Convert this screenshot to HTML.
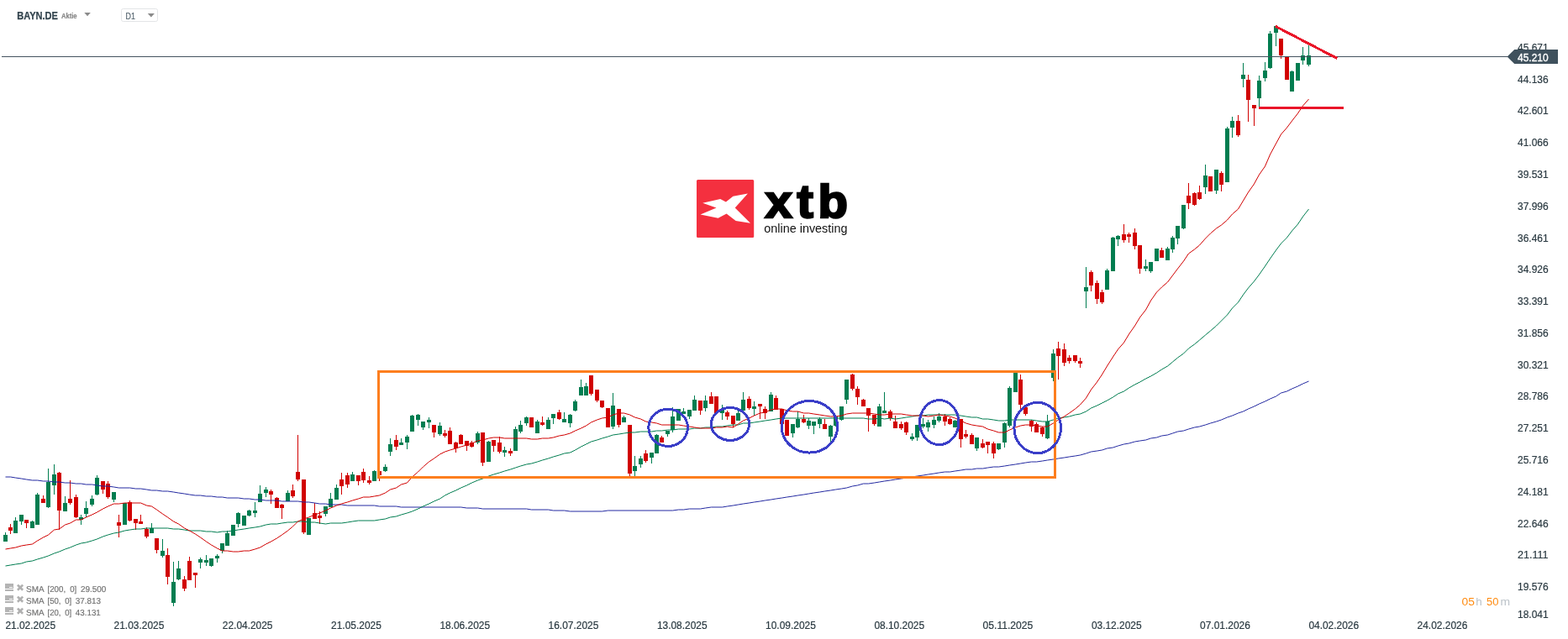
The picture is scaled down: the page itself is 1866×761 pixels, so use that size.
<!DOCTYPE html>
<html lang="de"><head><meta charset="utf-8"><title>BAYN.DE Aktie - D1</title>
<style>
html,body{margin:0;padding:0;background:#fff;}
body{width:1866px;height:761px;overflow:hidden;position:relative;}
svg{position:absolute;left:0;top:0;display:block;}
text{font-family:"Liberation Sans",sans-serif;}
.ax{font-size:12px;fill:#2b3a42;stroke:#2b3a42;stroke-width:0.2px;}
.lg{font-size:10px;fill:#6f6f6f;stroke:#6f6f6f;stroke-width:0.15px;text-rendering:geometricPrecision;}
</style></head><body>
<svg width="1866" height="761" viewBox="0 0 1866 761">
<rect x="0" y="0" width="1866" height="761" fill="#ffffff"/>
<g shape-rendering="crispEdges">
<rect x="6" y="634" width="1" height="11" fill="#007d50"/>
<rect x="4" y="637" width="5" height="8" fill="#007d50"/>
<rect x="12" y="624" width="1" height="12" fill="#d10000"/>
<rect x="10" y="628" width="5" height="4" fill="#d10000"/>
<rect x="18" y="616" width="1" height="19" fill="#007d50"/>
<rect x="16" y="620" width="5" height="15" fill="#007d50"/>
<rect x="25" y="613" width="1" height="12" fill="#007d50"/>
<rect x="23" y="613" width="5" height="8" fill="#007d50"/>
<rect x="31" y="619" width="1" height="10" fill="#d10000"/>
<rect x="29" y="619" width="5" height="4" fill="#d10000"/>
<rect x="38" y="620" width="1" height="9" fill="#007d50"/>
<rect x="36" y="621" width="5" height="8" fill="#007d50"/>
<rect x="44" y="587" width="1" height="38" fill="#007d50"/>
<rect x="42" y="589" width="5" height="36" fill="#007d50"/>
<rect x="51" y="590" width="1" height="9" fill="#d10000"/>
<rect x="49" y="594" width="5" height="5" fill="#d10000"/>
<rect x="57" y="558" width="1" height="47" fill="#007d50"/>
<rect x="55" y="574" width="5" height="30" fill="#007d50"/>
<rect x="64" y="553" width="1" height="36" fill="#007d50"/>
<rect x="62" y="565" width="5" height="13" fill="#007d50"/>
<rect x="70" y="562" width="1" height="69" fill="#d10000"/>
<rect x="68" y="563" width="5" height="45" fill="#d10000"/>
<rect x="77" y="591" width="1" height="18" fill="#007d50"/>
<rect x="75" y="599" width="5" height="10" fill="#007d50"/>
<rect x="83" y="572" width="1" height="29" fill="#d10000"/>
<rect x="81" y="594" width="5" height="5" fill="#d10000"/>
<rect x="90" y="589" width="1" height="28" fill="#d10000"/>
<rect x="88" y="592" width="5" height="24" fill="#d10000"/>
<rect x="96" y="613" width="1" height="12" fill="#007d50"/>
<rect x="94" y="616" width="5" height="3" fill="#007d50"/>
<rect x="102" y="597" width="1" height="19" fill="#007d50"/>
<rect x="100" y="605" width="5" height="7" fill="#007d50"/>
<rect x="109" y="590" width="1" height="13" fill="#007d50"/>
<rect x="107" y="594" width="5" height="7" fill="#007d50"/>
<rect x="115" y="566" width="1" height="24" fill="#007d50"/>
<rect x="113" y="569" width="5" height="20" fill="#007d50"/>
<rect x="122" y="573" width="1" height="15" fill="#d10000"/>
<rect x="120" y="573" width="5" height="10" fill="#d10000"/>
<rect x="128" y="573" width="1" height="21" fill="#d10000"/>
<rect x="126" y="576" width="5" height="16" fill="#d10000"/>
<rect x="135" y="586" width="1" height="12" fill="#007d50"/>
<rect x="133" y="586" width="5" height="9" fill="#007d50"/>
<rect x="141" y="613" width="1" height="27" fill="#d10000"/>
<rect x="139" y="622" width="5" height="4" fill="#d10000"/>
<rect x="148" y="599" width="1" height="26" fill="#007d50"/>
<rect x="146" y="599" width="5" height="26" fill="#007d50"/>
<rect x="154" y="596" width="1" height="25" fill="#d10000"/>
<rect x="152" y="598" width="5" height="22" fill="#d10000"/>
<rect x="161" y="618" width="1" height="13" fill="#d10000"/>
<rect x="159" y="618" width="5" height="5" fill="#d10000"/>
<rect x="167" y="613" width="1" height="11" fill="#d10000"/>
<rect x="165" y="621" width="5" height="3" fill="#d10000"/>
<rect x="174" y="628" width="1" height="13" fill="#d10000"/>
<rect x="172" y="630" width="5" height="9" fill="#d10000"/>
<rect x="180" y="623" width="1" height="12" fill="#007d50"/>
<rect x="178" y="629" width="5" height="6" fill="#007d50"/>
<rect x="186" y="641" width="1" height="18" fill="#d10000"/>
<rect x="184" y="641" width="5" height="14" fill="#d10000"/>
<rect x="193" y="642" width="1" height="22" fill="#007d50"/>
<rect x="191" y="656" width="5" height="6" fill="#007d50"/>
<rect x="199" y="653" width="1" height="43" fill="#d10000"/>
<rect x="197" y="661" width="5" height="26" fill="#d10000"/>
<rect x="206" y="669" width="1" height="53" fill="#007d50"/>
<rect x="204" y="693" width="5" height="25" fill="#007d50"/>
<rect x="212" y="668" width="1" height="23" fill="#007d50"/>
<rect x="210" y="677" width="5" height="13" fill="#007d50"/>
<rect x="219" y="686" width="1" height="18" fill="#d10000"/>
<rect x="217" y="690" width="5" height="11" fill="#d10000"/>
<rect x="225" y="663" width="1" height="28" fill="#d10000"/>
<rect x="223" y="668" width="5" height="23" fill="#d10000"/>
<rect x="232" y="682" width="1" height="18" fill="#d10000"/>
<rect x="230" y="682" width="5" height="3" fill="#d10000"/>
<rect x="238" y="664" width="1" height="13" fill="#007d50"/>
<rect x="236" y="666" width="5" height="4" fill="#007d50"/>
<rect x="245" y="661" width="1" height="13" fill="#007d50"/>
<rect x="243" y="667" width="5" height="3" fill="#007d50"/>
<rect x="251" y="665" width="1" height="10" fill="#007d50"/>
<rect x="249" y="665" width="5" height="9" fill="#007d50"/>
<rect x="258" y="660" width="1" height="10" fill="#007d50"/>
<rect x="256" y="662" width="5" height="3" fill="#007d50"/>
<rect x="264" y="647" width="1" height="12" fill="#007d50"/>
<rect x="262" y="647" width="5" height="9" fill="#007d50"/>
<rect x="270" y="632" width="1" height="18" fill="#007d50"/>
<rect x="268" y="635" width="5" height="15" fill="#007d50"/>
<rect x="277" y="625" width="1" height="13" fill="#007d50"/>
<rect x="275" y="625" width="5" height="13" fill="#007d50"/>
<rect x="283" y="610" width="1" height="18" fill="#007d50"/>
<rect x="281" y="611" width="5" height="13" fill="#007d50"/>
<rect x="290" y="614" width="1" height="12" fill="#007d50"/>
<rect x="288" y="614" width="5" height="12" fill="#007d50"/>
<rect x="296" y="607" width="1" height="8" fill="#007d50"/>
<rect x="294" y="608" width="5" height="6" fill="#007d50"/>
<rect x="303" y="598" width="1" height="18" fill="#007d50"/>
<rect x="301" y="608" width="5" height="3" fill="#007d50"/>
<rect x="309" y="578" width="1" height="20" fill="#007d50"/>
<rect x="307" y="588" width="5" height="10" fill="#007d50"/>
<rect x="316" y="580" width="1" height="12" fill="#007d50"/>
<rect x="314" y="583" width="5" height="4" fill="#007d50"/>
<rect x="322" y="583" width="1" height="17" fill="#d10000"/>
<rect x="320" y="585" width="5" height="4" fill="#d10000"/>
<rect x="329" y="592" width="1" height="13" fill="#d10000"/>
<rect x="327" y="593" width="5" height="12" fill="#d10000"/>
<rect x="335" y="600" width="1" height="18" fill="#d10000"/>
<rect x="333" y="601" width="5" height="4" fill="#d10000"/>
<rect x="342" y="584" width="1" height="13" fill="#007d50"/>
<rect x="340" y="587" width="5" height="10" fill="#007d50"/>
<rect x="348" y="577" width="1" height="16" fill="#d10000"/>
<rect x="346" y="584" width="5" height="7" fill="#d10000"/>
<rect x="354" y="518" width="1" height="55" fill="#d10000"/>
<rect x="352" y="562" width="5" height="9" fill="#d10000"/>
<rect x="361" y="571" width="1" height="65" fill="#d10000"/>
<rect x="359" y="571" width="5" height="63" fill="#d10000"/>
<rect x="367" y="617" width="1" height="20" fill="#007d50"/>
<rect x="365" y="617" width="5" height="20" fill="#007d50"/>
<rect x="374" y="599" width="1" height="19" fill="#d10000"/>
<rect x="372" y="611" width="5" height="7" fill="#d10000"/>
<rect x="380" y="609" width="1" height="15" fill="#d10000"/>
<rect x="378" y="614" width="5" height="3" fill="#d10000"/>
<rect x="387" y="603" width="1" height="12" fill="#007d50"/>
<rect x="385" y="603" width="5" height="9" fill="#007d50"/>
<rect x="393" y="587" width="1" height="17" fill="#007d50"/>
<rect x="391" y="594" width="5" height="10" fill="#007d50"/>
<rect x="400" y="577" width="1" height="18" fill="#007d50"/>
<rect x="398" y="581" width="5" height="14" fill="#007d50"/>
<rect x="406" y="563" width="1" height="26" fill="#d10000"/>
<rect x="404" y="571" width="5" height="8" fill="#d10000"/>
<rect x="413" y="563" width="1" height="18" fill="#d10000"/>
<rect x="411" y="566" width="5" height="11" fill="#d10000"/>
<rect x="419" y="562" width="1" height="11" fill="#007d50"/>
<rect x="417" y="565" width="5" height="8" fill="#007d50"/>
<rect x="426" y="566" width="1" height="12" fill="#d10000"/>
<rect x="424" y="566" width="5" height="7" fill="#d10000"/>
<rect x="432" y="558" width="1" height="17" fill="#d10000"/>
<rect x="430" y="562" width="5" height="10" fill="#d10000"/>
<rect x="439" y="567" width="1" height="10" fill="#d10000"/>
<rect x="437" y="572" width="5" height="3" fill="#d10000"/>
<rect x="445" y="560" width="1" height="13" fill="#007d50"/>
<rect x="443" y="561" width="5" height="12" fill="#007d50"/>
<rect x="451" y="560" width="1" height="13" fill="#d10000"/>
<rect x="449" y="561" width="5" height="5" fill="#d10000"/>
<rect x="458" y="553" width="1" height="9" fill="#007d50"/>
<rect x="456" y="556" width="5" height="5" fill="#007d50"/>
<rect x="464" y="522" width="1" height="21" fill="#007d50"/>
<rect x="462" y="529" width="5" height="9" fill="#007d50"/>
<rect x="471" y="518" width="1" height="18" fill="#d10000"/>
<rect x="469" y="524" width="5" height="8" fill="#d10000"/>
<rect x="477" y="522" width="1" height="8" fill="#007d50"/>
<rect x="475" y="527" width="5" height="3" fill="#007d50"/>
<rect x="484" y="518" width="1" height="17" fill="#007d50"/>
<rect x="482" y="520" width="5" height="7" fill="#007d50"/>
<rect x="490" y="494" width="1" height="20" fill="#007d50"/>
<rect x="488" y="495" width="5" height="19" fill="#007d50"/>
<rect x="497" y="493" width="1" height="14" fill="#007d50"/>
<rect x="495" y="494" width="5" height="6" fill="#007d50"/>
<rect x="503" y="502" width="1" height="10" fill="#007d50"/>
<rect x="501" y="502" width="5" height="7" fill="#007d50"/>
<rect x="510" y="497" width="1" height="13" fill="#007d50"/>
<rect x="508" y="500" width="5" height="3" fill="#007d50"/>
<rect x="516" y="506" width="1" height="15" fill="#d10000"/>
<rect x="514" y="506" width="5" height="9" fill="#d10000"/>
<rect x="523" y="503" width="1" height="16" fill="#007d50"/>
<rect x="521" y="507" width="5" height="10" fill="#007d50"/>
<rect x="529" y="512" width="1" height="9" fill="#d10000"/>
<rect x="527" y="516" width="5" height="3" fill="#d10000"/>
<rect x="535" y="509" width="1" height="20" fill="#d10000"/>
<rect x="533" y="513" width="5" height="16" fill="#d10000"/>
<rect x="542" y="526" width="1" height="13" fill="#d10000"/>
<rect x="540" y="527" width="5" height="7" fill="#d10000"/>
<rect x="548" y="517" width="1" height="12" fill="#d10000"/>
<rect x="546" y="518" width="5" height="11" fill="#d10000"/>
<rect x="555" y="525" width="1" height="12" fill="#d10000"/>
<rect x="553" y="525" width="5" height="6" fill="#d10000"/>
<rect x="561" y="525" width="1" height="8" fill="#d10000"/>
<rect x="559" y="527" width="5" height="5" fill="#d10000"/>
<rect x="568" y="514" width="1" height="15" fill="#007d50"/>
<rect x="566" y="516" width="5" height="11" fill="#007d50"/>
<rect x="574" y="515" width="1" height="40" fill="#d10000"/>
<rect x="572" y="515" width="5" height="36" fill="#d10000"/>
<rect x="581" y="525" width="1" height="25" fill="#007d50"/>
<rect x="579" y="526" width="5" height="24" fill="#007d50"/>
<rect x="587" y="524" width="1" height="14" fill="#d10000"/>
<rect x="585" y="524" width="5" height="7" fill="#d10000"/>
<rect x="594" y="520" width="1" height="20" fill="#d10000"/>
<rect x="592" y="527" width="5" height="11" fill="#d10000"/>
<rect x="600" y="532" width="1" height="12" fill="#007d50"/>
<rect x="598" y="536" width="5" height="3" fill="#007d50"/>
<rect x="607" y="534" width="1" height="9" fill="#d10000"/>
<rect x="605" y="537" width="5" height="3" fill="#d10000"/>
<rect x="613" y="508" width="1" height="29" fill="#007d50"/>
<rect x="611" y="511" width="5" height="26" fill="#007d50"/>
<rect x="619" y="501" width="1" height="15" fill="#007d50"/>
<rect x="617" y="506" width="5" height="8" fill="#007d50"/>
<rect x="626" y="496" width="1" height="11" fill="#007d50"/>
<rect x="624" y="497" width="5" height="7" fill="#007d50"/>
<rect x="632" y="497" width="1" height="12" fill="#d10000"/>
<rect x="630" y="497" width="5" height="12" fill="#d10000"/>
<rect x="639" y="500" width="1" height="16" fill="#007d50"/>
<rect x="637" y="502" width="5" height="14" fill="#007d50"/>
<rect x="645" y="496" width="1" height="11" fill="#d10000"/>
<rect x="643" y="503" width="5" height="3" fill="#d10000"/>
<rect x="652" y="497" width="1" height="14" fill="#007d50"/>
<rect x="650" y="500" width="5" height="11" fill="#007d50"/>
<rect x="658" y="493" width="1" height="12" fill="#007d50"/>
<rect x="656" y="493" width="5" height="5" fill="#007d50"/>
<rect x="665" y="488" width="1" height="12" fill="#d10000"/>
<rect x="663" y="491" width="5" height="8" fill="#d10000"/>
<rect x="671" y="491" width="1" height="12" fill="#007d50"/>
<rect x="669" y="499" width="5" height="4" fill="#007d50"/>
<rect x="678" y="493" width="1" height="16" fill="#007d50"/>
<rect x="676" y="494" width="5" height="10" fill="#007d50"/>
<rect x="684" y="476" width="1" height="14" fill="#007d50"/>
<rect x="682" y="478" width="5" height="11" fill="#007d50"/>
<rect x="691" y="452" width="1" height="19" fill="#007d50"/>
<rect x="689" y="461" width="5" height="10" fill="#007d50"/>
<rect x="697" y="456" width="1" height="15" fill="#007d50"/>
<rect x="695" y="460" width="5" height="11" fill="#007d50"/>
<rect x="703" y="447" width="1" height="24" fill="#d10000"/>
<rect x="701" y="447" width="5" height="22" fill="#d10000"/>
<rect x="710" y="464" width="1" height="15" fill="#d10000"/>
<rect x="708" y="464" width="5" height="13" fill="#d10000"/>
<rect x="716" y="477" width="1" height="9" fill="#d10000"/>
<rect x="714" y="477" width="5" height="8" fill="#d10000"/>
<rect x="723" y="486" width="1" height="23" fill="#d10000"/>
<rect x="721" y="486" width="5" height="23" fill="#d10000"/>
<rect x="729" y="468" width="1" height="43" fill="#007d50"/>
<rect x="727" y="483" width="5" height="25" fill="#007d50"/>
<rect x="736" y="487" width="1" height="22" fill="#d10000"/>
<rect x="734" y="487" width="5" height="19" fill="#d10000"/>
<rect x="742" y="495" width="1" height="8" fill="#007d50"/>
<rect x="740" y="497" width="5" height="6" fill="#007d50"/>
<rect x="749" y="506" width="1" height="61" fill="#d10000"/>
<rect x="747" y="506" width="5" height="58" fill="#d10000"/>
<rect x="755" y="543" width="1" height="24" fill="#007d50"/>
<rect x="753" y="555" width="5" height="6" fill="#007d50"/>
<rect x="762" y="543" width="1" height="14" fill="#007d50"/>
<rect x="760" y="546" width="5" height="7" fill="#007d50"/>
<rect x="768" y="536" width="1" height="15" fill="#d10000"/>
<rect x="766" y="540" width="5" height="9" fill="#d10000"/>
<rect x="775" y="539" width="1" height="13" fill="#007d50"/>
<rect x="773" y="539" width="5" height="6" fill="#007d50"/>
<rect x="781" y="517" width="1" height="23" fill="#007d50"/>
<rect x="779" y="518" width="5" height="22" fill="#007d50"/>
<rect x="787" y="519" width="1" height="8" fill="#d10000"/>
<rect x="785" y="521" width="5" height="6" fill="#d10000"/>
<rect x="794" y="513" width="1" height="7" fill="#007d50"/>
<rect x="792" y="513" width="5" height="4" fill="#007d50"/>
<rect x="800" y="485" width="1" height="30" fill="#007d50"/>
<rect x="798" y="496" width="5" height="16" fill="#007d50"/>
<rect x="807" y="487" width="1" height="14" fill="#007d50"/>
<rect x="805" y="487" width="5" height="14" fill="#007d50"/>
<rect x="813" y="486" width="1" height="7" fill="#007d50"/>
<rect x="811" y="490" width="5" height="3" fill="#007d50"/>
<rect x="820" y="488" width="1" height="11" fill="#007d50"/>
<rect x="818" y="488" width="5" height="8" fill="#007d50"/>
<rect x="826" y="471" width="1" height="18" fill="#007d50"/>
<rect x="824" y="476" width="5" height="13" fill="#007d50"/>
<rect x="833" y="477" width="1" height="17" fill="#d10000"/>
<rect x="831" y="477" width="5" height="12" fill="#d10000"/>
<rect x="839" y="471" width="1" height="19" fill="#007d50"/>
<rect x="837" y="477" width="5" height="9" fill="#007d50"/>
<rect x="846" y="467" width="1" height="14" fill="#d10000"/>
<rect x="844" y="472" width="5" height="9" fill="#d10000"/>
<rect x="852" y="472" width="1" height="21" fill="#d10000"/>
<rect x="850" y="472" width="5" height="20" fill="#d10000"/>
<rect x="859" y="482" width="1" height="18" fill="#007d50"/>
<rect x="857" y="488" width="5" height="4" fill="#007d50"/>
<rect x="865" y="489" width="1" height="11" fill="#d10000"/>
<rect x="863" y="491" width="5" height="5" fill="#d10000"/>
<rect x="872" y="495" width="1" height="14" fill="#d10000"/>
<rect x="870" y="495" width="5" height="10" fill="#d10000"/>
<rect x="878" y="489" width="1" height="12" fill="#007d50"/>
<rect x="876" y="492" width="5" height="9" fill="#007d50"/>
<rect x="884" y="467" width="1" height="22" fill="#007d50"/>
<rect x="882" y="476" width="5" height="13" fill="#007d50"/>
<rect x="891" y="472" width="1" height="16" fill="#d10000"/>
<rect x="889" y="475" width="5" height="11" fill="#d10000"/>
<rect x="897" y="478" width="1" height="17" fill="#007d50"/>
<rect x="895" y="484" width="5" height="3" fill="#007d50"/>
<rect x="904" y="481" width="1" height="18" fill="#d10000"/>
<rect x="902" y="481" width="5" height="3" fill="#d10000"/>
<rect x="910" y="484" width="1" height="15" fill="#d10000"/>
<rect x="908" y="487" width="5" height="5" fill="#d10000"/>
<rect x="917" y="467" width="1" height="23" fill="#007d50"/>
<rect x="915" y="470" width="5" height="20" fill="#007d50"/>
<rect x="923" y="471" width="1" height="17" fill="#d10000"/>
<rect x="921" y="474" width="5" height="14" fill="#d10000"/>
<rect x="930" y="487" width="1" height="18" fill="#d10000"/>
<rect x="928" y="487" width="5" height="18" fill="#d10000"/>
<rect x="936" y="500" width="1" height="19" fill="#d10000"/>
<rect x="934" y="500" width="5" height="19" fill="#d10000"/>
<rect x="943" y="505" width="1" height="16" fill="#007d50"/>
<rect x="941" y="505" width="5" height="11" fill="#007d50"/>
<rect x="949" y="490" width="1" height="20" fill="#007d50"/>
<rect x="947" y="499" width="5" height="10" fill="#007d50"/>
<rect x="956" y="494" width="1" height="10" fill="#d10000"/>
<rect x="954" y="499" width="5" height="4" fill="#d10000"/>
<rect x="962" y="498" width="1" height="13" fill="#007d50"/>
<rect x="960" y="501" width="5" height="6" fill="#007d50"/>
<rect x="968" y="502" width="1" height="15" fill="#007d50"/>
<rect x="966" y="502" width="5" height="5" fill="#007d50"/>
<rect x="975" y="497" width="1" height="13" fill="#007d50"/>
<rect x="973" y="499" width="5" height="6" fill="#007d50"/>
<rect x="981" y="499" width="1" height="12" fill="#d10000"/>
<rect x="979" y="505" width="5" height="6" fill="#d10000"/>
<rect x="988" y="506" width="1" height="20" fill="#007d50"/>
<rect x="986" y="507" width="5" height="13" fill="#007d50"/>
<rect x="994" y="495" width="1" height="13" fill="#007d50"/>
<rect x="992" y="496" width="5" height="11" fill="#007d50"/>
<rect x="1001" y="484" width="1" height="17" fill="#007d50"/>
<rect x="999" y="484" width="5" height="16" fill="#007d50"/>
<rect x="1007" y="452" width="1" height="29" fill="#007d50"/>
<rect x="1005" y="452" width="5" height="24" fill="#007d50"/>
<rect x="1014" y="445" width="1" height="20" fill="#d10000"/>
<rect x="1012" y="446" width="5" height="17" fill="#d10000"/>
<rect x="1020" y="460" width="1" height="22" fill="#d10000"/>
<rect x="1018" y="463" width="5" height="10" fill="#d10000"/>
<rect x="1027" y="475" width="1" height="9" fill="#d10000"/>
<rect x="1025" y="476" width="5" height="8" fill="#d10000"/>
<rect x="1033" y="486" width="1" height="28" fill="#d10000"/>
<rect x="1031" y="486" width="5" height="9" fill="#d10000"/>
<rect x="1040" y="494" width="1" height="13" fill="#d10000"/>
<rect x="1038" y="494" width="5" height="11" fill="#d10000"/>
<rect x="1046" y="481" width="1" height="27" fill="#007d50"/>
<rect x="1044" y="484" width="5" height="24" fill="#007d50"/>
<rect x="1052" y="467" width="1" height="25" fill="#007d50"/>
<rect x="1050" y="489" width="5" height="3" fill="#007d50"/>
<rect x="1059" y="488" width="1" height="13" fill="#d10000"/>
<rect x="1057" y="490" width="5" height="8" fill="#d10000"/>
<rect x="1065" y="495" width="1" height="15" fill="#d10000"/>
<rect x="1063" y="502" width="5" height="8" fill="#d10000"/>
<rect x="1072" y="502" width="1" height="10" fill="#d10000"/>
<rect x="1070" y="505" width="5" height="5" fill="#d10000"/>
<rect x="1078" y="502" width="1" height="16" fill="#d10000"/>
<rect x="1076" y="503" width="5" height="12" fill="#d10000"/>
<rect x="1085" y="516" width="1" height="9" fill="#007d50"/>
<rect x="1083" y="520" width="5" height="3" fill="#007d50"/>
<rect x="1091" y="506" width="1" height="19" fill="#007d50"/>
<rect x="1089" y="506" width="5" height="15" fill="#007d50"/>
<rect x="1098" y="498" width="1" height="12" fill="#007d50"/>
<rect x="1096" y="505" width="5" height="3" fill="#007d50"/>
<rect x="1104" y="500" width="1" height="14" fill="#007d50"/>
<rect x="1102" y="503" width="5" height="6" fill="#007d50"/>
<rect x="1111" y="496" width="1" height="14" fill="#007d50"/>
<rect x="1109" y="500" width="5" height="6" fill="#007d50"/>
<rect x="1117" y="492" width="1" height="11" fill="#007d50"/>
<rect x="1115" y="496" width="5" height="5" fill="#007d50"/>
<rect x="1124" y="493" width="1" height="14" fill="#d10000"/>
<rect x="1122" y="496" width="5" height="6" fill="#d10000"/>
<rect x="1130" y="497" width="1" height="9" fill="#d10000"/>
<rect x="1128" y="499" width="5" height="6" fill="#d10000"/>
<rect x="1136" y="500" width="1" height="9" fill="#007d50"/>
<rect x="1134" y="501" width="5" height="8" fill="#007d50"/>
<rect x="1143" y="499" width="1" height="34" fill="#d10000"/>
<rect x="1141" y="499" width="5" height="24" fill="#d10000"/>
<rect x="1149" y="512" width="1" height="10" fill="#d10000"/>
<rect x="1147" y="517" width="5" height="3" fill="#d10000"/>
<rect x="1156" y="516" width="1" height="13" fill="#d10000"/>
<rect x="1154" y="518" width="5" height="11" fill="#d10000"/>
<rect x="1162" y="521" width="1" height="16" fill="#007d50"/>
<rect x="1160" y="521" width="5" height="13" fill="#007d50"/>
<rect x="1169" y="523" width="1" height="11" fill="#d10000"/>
<rect x="1167" y="528" width="5" height="5" fill="#d10000"/>
<rect x="1175" y="526" width="1" height="14" fill="#d10000"/>
<rect x="1173" y="526" width="5" height="4" fill="#d10000"/>
<rect x="1182" y="526" width="1" height="20" fill="#d10000"/>
<rect x="1180" y="528" width="5" height="12" fill="#d10000"/>
<rect x="1188" y="528" width="1" height="8" fill="#007d50"/>
<rect x="1186" y="528" width="5" height="7" fill="#007d50"/>
<rect x="1195" y="503" width="1" height="30" fill="#007d50"/>
<rect x="1193" y="504" width="5" height="23" fill="#007d50"/>
<rect x="1201" y="460" width="1" height="49" fill="#007d50"/>
<rect x="1199" y="462" width="5" height="45" fill="#007d50"/>
<rect x="1208" y="443" width="1" height="24" fill="#007d50"/>
<rect x="1206" y="444" width="5" height="23" fill="#007d50"/>
<rect x="1214" y="446" width="1" height="41" fill="#d10000"/>
<rect x="1212" y="452" width="5" height="30" fill="#d10000"/>
<rect x="1220" y="484" width="1" height="11" fill="#d10000"/>
<rect x="1218" y="485" width="5" height="8" fill="#d10000"/>
<rect x="1227" y="500" width="1" height="14" fill="#d10000"/>
<rect x="1225" y="501" width="5" height="7" fill="#d10000"/>
<rect x="1233" y="503" width="1" height="12" fill="#d10000"/>
<rect x="1231" y="505" width="5" height="10" fill="#d10000"/>
<rect x="1240" y="508" width="1" height="12" fill="#d10000"/>
<rect x="1238" y="509" width="5" height="8" fill="#d10000"/>
<rect x="1246" y="494" width="1" height="29" fill="#007d50"/>
<rect x="1244" y="502" width="5" height="20" fill="#007d50"/>
<rect x="1253" y="416" width="1" height="38" fill="#007d50"/>
<rect x="1251" y="421" width="5" height="29" fill="#007d50"/>
<rect x="1259" y="407" width="1" height="45" fill="#d10000"/>
<rect x="1257" y="415" width="5" height="9" fill="#d10000"/>
<rect x="1266" y="409" width="1" height="27" fill="#d10000"/>
<rect x="1264" y="416" width="5" height="16" fill="#d10000"/>
<rect x="1272" y="423" width="1" height="10" fill="#d10000"/>
<rect x="1270" y="426" width="5" height="4" fill="#d10000"/>
<rect x="1279" y="423" width="1" height="9" fill="#d10000"/>
<rect x="1277" y="423" width="5" height="7" fill="#d10000"/>
<rect x="1285" y="426" width="1" height="12" fill="#d10000"/>
<rect x="1283" y="430" width="5" height="3" fill="#d10000"/>
<rect x="1292" y="318" width="1" height="49" fill="#007d50"/>
<rect x="1290" y="342" width="5" height="5" fill="#007d50"/>
<rect x="1298" y="322" width="1" height="25" fill="#d10000"/>
<rect x="1296" y="324" width="5" height="16" fill="#d10000"/>
<rect x="1305" y="334" width="1" height="28" fill="#d10000"/>
<rect x="1303" y="337" width="5" height="19" fill="#d10000"/>
<rect x="1311" y="345" width="1" height="17" fill="#d10000"/>
<rect x="1309" y="348" width="5" height="12" fill="#d10000"/>
<rect x="1317" y="320" width="1" height="25" fill="#007d50"/>
<rect x="1315" y="322" width="5" height="23" fill="#007d50"/>
<rect x="1324" y="282" width="1" height="41" fill="#007d50"/>
<rect x="1322" y="283" width="5" height="40" fill="#007d50"/>
<rect x="1330" y="280" width="1" height="13" fill="#007d50"/>
<rect x="1328" y="281" width="5" height="4" fill="#007d50"/>
<rect x="1337" y="267" width="1" height="22" fill="#d10000"/>
<rect x="1335" y="279" width="5" height="7" fill="#d10000"/>
<rect x="1343" y="277" width="1" height="12" fill="#d10000"/>
<rect x="1341" y="279" width="5" height="3" fill="#d10000"/>
<rect x="1350" y="272" width="1" height="25" fill="#d10000"/>
<rect x="1348" y="277" width="5" height="16" fill="#d10000"/>
<rect x="1356" y="292" width="1" height="34" fill="#d10000"/>
<rect x="1354" y="292" width="5" height="28" fill="#d10000"/>
<rect x="1363" y="309" width="1" height="14" fill="#007d50"/>
<rect x="1361" y="317" width="5" height="3" fill="#007d50"/>
<rect x="1369" y="312" width="1" height="13" fill="#007d50"/>
<rect x="1367" y="312" width="5" height="11" fill="#007d50"/>
<rect x="1376" y="296" width="1" height="15" fill="#007d50"/>
<rect x="1374" y="296" width="5" height="15" fill="#007d50"/>
<rect x="1382" y="295" width="1" height="12" fill="#d10000"/>
<rect x="1380" y="298" width="5" height="9" fill="#d10000"/>
<rect x="1389" y="294" width="1" height="16" fill="#007d50"/>
<rect x="1387" y="296" width="5" height="14" fill="#007d50"/>
<rect x="1395" y="281" width="1" height="20" fill="#007d50"/>
<rect x="1393" y="283" width="5" height="14" fill="#007d50"/>
<rect x="1401" y="269" width="1" height="22" fill="#007d50"/>
<rect x="1399" y="269" width="5" height="15" fill="#007d50"/>
<rect x="1408" y="244" width="1" height="29" fill="#007d50"/>
<rect x="1406" y="244" width="5" height="28" fill="#007d50"/>
<rect x="1414" y="218" width="1" height="31" fill="#d10000"/>
<rect x="1412" y="233" width="5" height="9" fill="#d10000"/>
<rect x="1421" y="229" width="1" height="16" fill="#d10000"/>
<rect x="1419" y="230" width="5" height="14" fill="#d10000"/>
<rect x="1427" y="221" width="1" height="17" fill="#d10000"/>
<rect x="1425" y="229" width="5" height="8" fill="#d10000"/>
<rect x="1434" y="196" width="1" height="35" fill="#007d50"/>
<rect x="1432" y="209" width="5" height="14" fill="#007d50"/>
<rect x="1440" y="210" width="1" height="18" fill="#d10000"/>
<rect x="1438" y="210" width="5" height="18" fill="#d10000"/>
<rect x="1447" y="202" width="1" height="29" fill="#007d50"/>
<rect x="1445" y="202" width="5" height="25" fill="#007d50"/>
<rect x="1453" y="204" width="1" height="24" fill="#d10000"/>
<rect x="1451" y="206" width="5" height="14" fill="#d10000"/>
<rect x="1460" y="151" width="1" height="66" fill="#007d50"/>
<rect x="1458" y="153" width="5" height="64" fill="#007d50"/>
<rect x="1466" y="139" width="1" height="25" fill="#007d50"/>
<rect x="1464" y="144" width="5" height="8" fill="#007d50"/>
<rect x="1473" y="137" width="1" height="26" fill="#d10000"/>
<rect x="1471" y="144" width="5" height="17" fill="#d10000"/>
<rect x="1479" y="75" width="1" height="29" fill="#007d50"/>
<rect x="1477" y="89" width="5" height="5" fill="#007d50"/>
<rect x="1485" y="89" width="1" height="56" fill="#d10000"/>
<rect x="1483" y="95" width="5" height="24" fill="#d10000"/>
<rect x="1492" y="125" width="1" height="25" fill="#d10000"/>
<rect x="1490" y="125" width="5" height="4" fill="#d10000"/>
<rect x="1498" y="90" width="1" height="37" fill="#007d50"/>
<rect x="1496" y="96" width="5" height="21" fill="#007d50"/>
<rect x="1505" y="74" width="1" height="23" fill="#007d50"/>
<rect x="1503" y="84" width="5" height="9" fill="#007d50"/>
<rect x="1511" y="37" width="1" height="45" fill="#007d50"/>
<rect x="1509" y="40" width="5" height="41" fill="#007d50"/>
<rect x="1518" y="31" width="1" height="24" fill="#007d50"/>
<rect x="1516" y="31" width="5" height="8" fill="#007d50"/>
<rect x="1524" y="46" width="1" height="24" fill="#d10000"/>
<rect x="1522" y="46" width="5" height="20" fill="#d10000"/>
<rect x="1531" y="68" width="1" height="27" fill="#d10000"/>
<rect x="1529" y="68" width="5" height="27" fill="#d10000"/>
<rect x="1537" y="84" width="1" height="25" fill="#007d50"/>
<rect x="1535" y="85" width="5" height="24" fill="#007d50"/>
<rect x="1544" y="75" width="1" height="21" fill="#007d50"/>
<rect x="1542" y="75" width="5" height="21" fill="#007d50"/>
<rect x="1550" y="56" width="1" height="21" fill="#007d50"/>
<rect x="1548" y="66" width="5" height="6" fill="#007d50"/>
<rect x="1557" y="53" width="1" height="26" fill="#007d50"/>
<rect x="1555" y="66" width="5" height="11" fill="#007d50"/>
</g>
<g fill="none" stroke-linejoin="miter" stroke-linecap="butt">
<path d="M6.5 568 L12.5 568 L18.5 569 L25.5 570 L31.5 571 L38.5 572 L44.5 572 L51.5 573 L57.5 573 L64.5 574 L70.5 574 L77.5 575 L83.5 575 L90.5 576 L96.5 576 L102.5 577 L109.5 577 L115.5 578 L122.5 579 L128.5 579 L135.5 580 L141.5 581 L154.5 581 L161.5 582 L167.5 582 L174.5 583 L180.5 584 L186.5 584 L193.5 585 L199.5 585 L206.5 586 L212.5 587 L219.5 588 L225.5 589 L232.5 590 L238.5 590 L245.5 591 L251.5 591 L258.5 592 L264.5 592 L270.5 593 L283.5 593 L290.5 594 L296.5 594 L303.5 595 L309.5 595 L316.5 596 L329.5 596 L335.5 597 L354.5 597 L361.5 598 L367.5 598 L374.5 599 L380.5 600 L387.5 600 L393.5 601 L406.5 601 L413.5 602 L445.5 602 L451.5 603 L471.5 603 L477.5 604 L548.5 604 L555.5 605 L568.5 605 L574.5 606 L626.5 606 L632.5 607 L652.5 607 L658.5 608 L671.5 608 L678.5 609 L716.5 609 L723.5 608 L800.5 608 L807.5 607 L813.5 607 L820.5 606 L833.5 606 L839.5 605 L846.5 604 L859.5 604 L865.5 603 L872.5 602 L878.5 601 L884.5 600 L891.5 599 L897.5 598 L904.5 597 L910.5 596 L917.5 595 L923.5 594 L930.5 593 L936.5 592 L943.5 591 L949.5 590 L956.5 589 L962.5 588 L968.5 587 L975.5 586 L981.5 585 L988.5 584 L994.5 583 L1001.5 582 L1007.5 581 L1014.5 579 L1020.5 578 L1027.5 576 L1033.5 576 L1040.5 575 L1046.5 574 L1052.5 573 L1059.5 572 L1065.5 571 L1072.5 570 L1078.5 569 L1085.5 568 L1091.5 567 L1098.5 566 L1104.5 565 L1111.5 564 L1117.5 563 L1124.5 562 L1130.5 562 L1136.5 561 L1143.5 560 L1149.5 559 L1156.5 559 L1162.5 558 L1169.5 558 L1175.5 557 L1182.5 556 L1188.5 556 L1195.5 555 L1201.5 554 L1208.5 553 L1214.5 552 L1220.5 551 L1227.5 550 L1233.5 550 L1240.5 549 L1246.5 548 L1253.5 547 L1259.5 546 L1266.5 545 L1272.5 544 L1279.5 543 L1285.5 542 L1292.5 540 L1298.5 538 L1305.5 537 L1311.5 536 L1317.5 534 L1324.5 533 L1330.5 531 L1337.5 529 L1343.5 528 L1350.5 526 L1356.5 525 L1363.5 524 L1369.5 522 L1376.5 521 L1382.5 519 L1389.5 518 L1395.5 516 L1401.5 514 L1408.5 513 L1414.5 511 L1421.5 509 L1427.5 508 L1434.5 506 L1440.5 504 L1447.5 502 L1453.5 500 L1460.5 497 L1466.5 495 L1473.5 492 L1479.5 490 L1485.5 487 L1492.5 484 L1498.5 481 L1505.5 478 L1511.5 475 L1518.5 472 L1524.5 468 L1531.5 466 L1537.5 463 L1544.5 460 L1550.5 457 L1557.5 454" stroke="#2329a1" stroke-width="1"/>
<path d="M6.5 674 L12.5 673 L18.5 672 L25.5 671 L31.5 669 L38.5 668 L44.5 666 L51.5 664 L57.5 662 L64.5 659 L70.5 657 L77.5 654 L83.5 652 L90.5 649 L96.5 647 L102.5 646 L109.5 644 L115.5 642 L122.5 639 L128.5 637 L135.5 635 L141.5 634 L148.5 632 L154.5 631 L161.5 630 L167.5 630 L174.5 629 L199.5 629 L206.5 630 L212.5 630 L219.5 631 L225.5 632 L238.5 632 L245.5 633 L251.5 633 L258.5 634 L264.5 633 L270.5 633 L277.5 632 L283.5 631 L290.5 630 L296.5 629 L303.5 628 L309.5 627 L316.5 625 L322.5 624 L329.5 624 L335.5 623 L342.5 622 L348.5 622 L354.5 621 L361.5 621 L367.5 622 L374.5 622 L380.5 623 L387.5 624 L393.5 623 L406.5 623 L413.5 622 L419.5 621 L426.5 620 L445.5 620 L451.5 619 L458.5 618 L464.5 616 L471.5 615 L477.5 613 L484.5 611 L490.5 609 L497.5 606 L503.5 603 L510.5 600 L516.5 597 L523.5 594 L529.5 590 L535.5 587 L542.5 584 L548.5 581 L555.5 578 L561.5 575 L568.5 572 L574.5 570 L581.5 567 L587.5 565 L594.5 563 L600.5 561 L607.5 559 L613.5 557 L619.5 555 L626.5 553 L632.5 552 L639.5 550 L645.5 548 L652.5 546 L658.5 544 L665.5 542 L671.5 540 L678.5 539 L684.5 536 L691.5 532 L697.5 529 L703.5 526 L710.5 524 L716.5 522 L723.5 520 L729.5 518 L736.5 517 L742.5 516 L749.5 515 L755.5 515 L762.5 514 L775.5 514 L781.5 513 L787.5 513 L794.5 512 L800.5 512 L807.5 511 L820.5 511 L826.5 510 L833.5 510 L839.5 509 L846.5 509 L852.5 508 L859.5 508 L865.5 507 L872.5 506 L878.5 506 L884.5 504 L891.5 504 L897.5 503 L904.5 502 L910.5 501 L917.5 500 L923.5 499 L930.5 498 L1027.5 498 L1033.5 499 L1040.5 499 L1046.5 498 L1052.5 499 L1059.5 498 L1065.5 499 L1072.5 498 L1078.5 497 L1085.5 496 L1091.5 495 L1098.5 495 L1104.5 494 L1136.5 494 L1143.5 495 L1149.5 496 L1156.5 497 L1162.5 497 L1169.5 499 L1175.5 499 L1182.5 500 L1188.5 501 L1195.5 501 L1201.5 500 L1227.5 500 L1233.5 501 L1240.5 502 L1246.5 502 L1253.5 500 L1259.5 498 L1266.5 497 L1272.5 496 L1279.5 494 L1285.5 493 L1292.5 490 L1298.5 486 L1305.5 483 L1311.5 480 L1317.5 477 L1324.5 473 L1330.5 469 L1337.5 466 L1343.5 462 L1350.5 458 L1356.5 455 L1363.5 451 L1369.5 448 L1376.5 444 L1382.5 440 L1389.5 436 L1395.5 431 L1401.5 426 L1408.5 421 L1414.5 415 L1421.5 410 L1427.5 405 L1434.5 399 L1440.5 394 L1447.5 388 L1453.5 382 L1460.5 375 L1466.5 367 L1473.5 360 L1479.5 351 L1485.5 343 L1492.5 335 L1498.5 327 L1505.5 317 L1511.5 308 L1518.5 298 L1524.5 290 L1531.5 283 L1537.5 275 L1544.5 267 L1550.5 258 L1557.5 249" stroke="#007d50" stroke-width="1"/>
<path d="M6.5 654 L12.5 653 L18.5 652 L25.5 650 L31.5 649 L38.5 648 L44.5 644 L51.5 640 L57.5 637 L64.5 631 L70.5 630 L77.5 625 L83.5 623 L90.5 619 L96.5 619 L102.5 616 L109.5 613 L115.5 610 L122.5 606 L128.5 603 L135.5 600 L141.5 600 L148.5 599 L167.5 599 L174.5 602 L180.5 603 L186.5 607 L193.5 612 L199.5 616 L206.5 621 L212.5 624 L219.5 629 L225.5 632 L232.5 636 L238.5 640 L245.5 645 L251.5 649 L258.5 653 L264.5 656 L270.5 656 L277.5 657 L283.5 657 L290.5 656 L296.5 656 L303.5 654 L309.5 652 L316.5 648 L322.5 645 L329.5 641 L335.5 637 L342.5 632 L348.5 627 L354.5 621 L361.5 618 L367.5 616 L374.5 613 L380.5 611 L387.5 608 L393.5 605 L400.5 602 L406.5 600 L413.5 598 L419.5 596 L426.5 594 L432.5 592 L439.5 592 L445.5 591 L451.5 590 L458.5 587 L464.5 583 L471.5 581 L477.5 577 L484.5 575 L490.5 568 L497.5 562 L503.5 556 L510.5 550 L516.5 546 L523.5 541 L529.5 538 L535.5 536 L542.5 534 L548.5 532 L555.5 530 L561.5 528 L568.5 525 L574.5 524 L581.5 522 L587.5 521 L594.5 521 L600.5 522 L626.5 522 L632.5 523 L639.5 523 L645.5 522 L652.5 522 L658.5 521 L665.5 519 L671.5 518 L678.5 516 L684.5 513 L691.5 510 L697.5 507 L703.5 503 L710.5 500 L716.5 498 L723.5 497 L729.5 494 L736.5 492 L742.5 492 L749.5 494 L755.5 497 L762.5 499 L768.5 502 L775.5 503 L781.5 504 L787.5 506 L807.5 506 L813.5 507 L820.5 508 L826.5 509 L833.5 510 L846.5 510 L852.5 509 L859.5 509 L865.5 508 L872.5 509 L878.5 505 L884.5 501 L891.5 498 L897.5 495 L904.5 492 L910.5 491 L917.5 488 L923.5 487 L930.5 487 L936.5 489 L943.5 490 L949.5 490 L956.5 492 L962.5 492 L968.5 493 L975.5 494 L981.5 495 L988.5 496 L994.5 496 L1001.5 495 L1007.5 493 L1014.5 492 L1033.5 492 L1040.5 493 L1046.5 494 L1052.5 494 L1059.5 493 L1072.5 493 L1078.5 494 L1085.5 495 L1098.5 495 L1104.5 496 L1111.5 495 L1117.5 494 L1124.5 495 L1130.5 496 L1136.5 498 L1143.5 501 L1149.5 504 L1156.5 506 L1162.5 507 L1169.5 508 L1175.5 511 L1182.5 513 L1188.5 515 L1195.5 515 L1201.5 512 L1208.5 509 L1214.5 507 L1220.5 506 L1227.5 506 L1233.5 507 L1240.5 508 L1246.5 508 L1253.5 504 L1259.5 500 L1266.5 496 L1272.5 492 L1279.5 487 L1285.5 482 L1292.5 474 L1298.5 464 L1305.5 455 L1311.5 446 L1317.5 436 L1324.5 425 L1330.5 416 L1337.5 408 L1343.5 398 L1350.5 388 L1356.5 378 L1363.5 369 L1369.5 358 L1376.5 348 L1382.5 342 L1389.5 336 L1395.5 328 L1401.5 320 L1408.5 311 L1414.5 302 L1421.5 297 L1427.5 292 L1434.5 284 L1440.5 278 L1447.5 272 L1453.5 268 L1460.5 262 L1466.5 255 L1473.5 249 L1479.5 239 L1485.5 229 L1492.5 219 L1498.5 208 L1505.5 198 L1511.5 184 L1518.5 171 L1524.5 160 L1531.5 152 L1537.5 144 L1544.5 135 L1550.5 126 L1557.5 118" stroke="#d10000" stroke-width="1"/>
</g>
<g shape-rendering="crispEdges">
<rect x="2" y="67" width="1793" height="1" fill="#44535f"/>
</g>
<rect x="450.5" y="442.5" width="805" height="126" fill="none" stroke="#fd7e1e" stroke-width="3"/>
<g fill="none" stroke="#3a3ec8" stroke-width="3" shape-rendering="crispEdges">
<ellipse cx="795.1" cy="509.3" rx="23.3" ry="22.1"/>
<ellipse cx="869.0" cy="505.0" rx="22.6" ry="19.4"/>
<ellipse cx="963.4" cy="508.3" rx="33.2" ry="30.8"/>
<ellipse cx="1117.7" cy="503.1" rx="23.2" ry="26.5"/>
<ellipse cx="1234.7" cy="509.5" rx="27.8" ry="30.1"/>
</g>
<line x1="1518.0" y1="31.4" x2="1591.3" y2="69.6" stroke="#ea1529" stroke-width="3" stroke-linecap="butt" shape-rendering="crispEdges"/>
<rect x="1498" y="127" width="101" height="3" fill="#ea1529" shape-rendering="crispEdges"/>
<text class="ax" x="1806" y="61" textLength="36.6" lengthAdjust="spacingAndGlyphs">45.671</text>
<text class="ax" x="1806" y="99" textLength="36.6" lengthAdjust="spacingAndGlyphs">44.136</text>
<text class="ax" x="1806" y="136" textLength="36.6" lengthAdjust="spacingAndGlyphs">42.601</text>
<text class="ax" x="1806" y="174" textLength="36.6" lengthAdjust="spacingAndGlyphs">41.066</text>
<text class="ax" x="1806" y="212" textLength="36.6" lengthAdjust="spacingAndGlyphs">39.531</text>
<text class="ax" x="1806" y="250" textLength="36.6" lengthAdjust="spacingAndGlyphs">37.996</text>
<text class="ax" x="1806" y="288" textLength="36.6" lengthAdjust="spacingAndGlyphs">36.461</text>
<text class="ax" x="1806" y="325" textLength="36.6" lengthAdjust="spacingAndGlyphs">34.926</text>
<text class="ax" x="1806" y="363" textLength="36.6" lengthAdjust="spacingAndGlyphs">33.391</text>
<text class="ax" x="1806" y="401" textLength="36.6" lengthAdjust="spacingAndGlyphs">31.856</text>
<text class="ax" x="1806" y="439" textLength="36.6" lengthAdjust="spacingAndGlyphs">30.321</text>
<text class="ax" x="1806" y="476" textLength="36.6" lengthAdjust="spacingAndGlyphs">28.786</text>
<text class="ax" x="1806" y="514" textLength="36.6" lengthAdjust="spacingAndGlyphs">27.251</text>
<text class="ax" x="1806" y="552" textLength="36.6" lengthAdjust="spacingAndGlyphs">25.716</text>
<text class="ax" x="1806" y="590" textLength="36.6" lengthAdjust="spacingAndGlyphs">24.181</text>
<text class="ax" x="1806" y="628" textLength="36.6" lengthAdjust="spacingAndGlyphs">22.646</text>
<text class="ax" x="1806" y="665" textLength="36.6" lengthAdjust="spacingAndGlyphs">21.111</text>
<text class="ax" x="1806" y="703" textLength="36.6" lengthAdjust="spacingAndGlyphs">19.576</text>
<text class="ax" x="1806" y="736" textLength="36.6" lengthAdjust="spacingAndGlyphs">18.041</text>
<path d="M1793.6 67.5 L1802.2 59 L1854 59 L1854 76 L1802.2 76 Z" fill="#3f515d"/>
<text x="1806" y="73" font-size="12" fill="#ffffff" stroke="#ffffff" stroke-width="0.35" textLength="36.6" lengthAdjust="spacingAndGlyphs">45.210</text>
<text class="ax" x="6.4" y="749.2" textLength="59.7" lengthAdjust="spacingAndGlyphs">21.02.2025</text>
<text class="ax" x="135.6" y="749.2" textLength="59.7" lengthAdjust="spacingAndGlyphs">21.03.2025</text>
<text class="ax" x="264.8" y="749.2" textLength="59.7" lengthAdjust="spacingAndGlyphs">22.04.2025</text>
<text class="ax" x="394.1" y="749.2" textLength="59.7" lengthAdjust="spacingAndGlyphs">21.05.2025</text>
<text class="ax" x="523.4" y="749.2" textLength="59.7" lengthAdjust="spacingAndGlyphs">18.06.2025</text>
<text class="ax" x="652.6" y="749.2" textLength="59.7" lengthAdjust="spacingAndGlyphs">16.07.2025</text>
<text class="ax" x="781.9" y="749.2" textLength="59.7" lengthAdjust="spacingAndGlyphs">13.08.2025</text>
<text class="ax" x="911.1" y="749.2" textLength="59.7" lengthAdjust="spacingAndGlyphs">10.09.2025</text>
<text class="ax" x="1040.4" y="749.2" textLength="59.7" lengthAdjust="spacingAndGlyphs">08.10.2025</text>
<text class="ax" x="1169.6" y="749.2" textLength="59.7" lengthAdjust="spacingAndGlyphs">05.11.2025</text>
<text class="ax" x="1298.9" y="749.2" textLength="59.7" lengthAdjust="spacingAndGlyphs">03.12.2025</text>
<text class="ax" x="1428.1" y="749.2" textLength="59.7" lengthAdjust="spacingAndGlyphs">07.01.2026</text>
<text class="ax" x="1557.4" y="749.2" textLength="59.7" lengthAdjust="spacingAndGlyphs">04.02.2026</text>
<text class="ax" x="1686.6" y="749.2" textLength="59.7" lengthAdjust="spacingAndGlyphs">24.02.2026</text>
<g fill="#b4b4b4" shape-rendering="crispEdges"><rect x="6" y="695" width="10" height="6"/><rect x="6" y="702" width="10" height="2"/></g><rect x="11" y="699" width="4" height="1" fill="#ffffff" shape-rendering="crispEdges"/>
<text x="19.0" y="704.4" font-size="12" fill="#b0b0b0">&#10006;</text>
<text class="lg" y="705.0"><tspan x="31.1" textLength="21.0" lengthAdjust="spacingAndGlyphs">SMA</tspan> <tspan x="56.5" textLength="21.6" lengthAdjust="spacingAndGlyphs">[200,</tspan> <tspan x="83.2" textLength="8.0" lengthAdjust="spacingAndGlyphs">0]</tspan> <tspan x="96.0" textLength="30.3" lengthAdjust="spacingAndGlyphs">29.500</tspan></text>
<g fill="#b4b4b4" shape-rendering="crispEdges"><rect x="6" y="709" width="10" height="6"/><rect x="6" y="716" width="10" height="2"/></g><rect x="11" y="713" width="4" height="1" fill="#ffffff" shape-rendering="crispEdges"/>
<text x="19.0" y="718.4" font-size="12" fill="#b0b0b0">&#10006;</text>
<text class="lg" y="719.0"><tspan x="31.1" textLength="21.0" lengthAdjust="spacingAndGlyphs">SMA</tspan> <tspan x="56.5" textLength="16.0" lengthAdjust="spacingAndGlyphs">[50,</tspan> <tspan x="77.2" textLength="8.0" lengthAdjust="spacingAndGlyphs">0]</tspan> <tspan x="89.8" textLength="30.3" lengthAdjust="spacingAndGlyphs">37.813</tspan></text>
<g fill="#b4b4b4" shape-rendering="crispEdges"><rect x="6" y="723" width="10" height="6"/><rect x="6" y="730" width="10" height="2"/></g><rect x="11" y="727" width="4" height="1" fill="#ffffff" shape-rendering="crispEdges"/>
<text x="19.0" y="732.4" font-size="12" fill="#b0b0b0">&#10006;</text>
<text class="lg" y="733.0"><tspan x="31.1" textLength="21.0" lengthAdjust="spacingAndGlyphs">SMA</tspan> <tspan x="56.5" textLength="16.0" lengthAdjust="spacingAndGlyphs">[20,</tspan> <tspan x="77.2" textLength="8.0" lengthAdjust="spacingAndGlyphs">0]</tspan> <tspan x="89.8" textLength="30.0" lengthAdjust="spacingAndGlyphs">43.131</tspan></text>
<text font-size="13.5" y="720.6"><tspan x="1739.6" fill="#ff8b10" textLength="15.4" lengthAdjust="spacingAndGlyphs">05</tspan><tspan x="1756.2" fill="#bcc3c9">h </tspan><tspan x="1769.0" fill="#ff8b10" textLength="14.4" lengthAdjust="spacingAndGlyphs">50</tspan><tspan x="1785.4" fill="#bcc3c9" textLength="11.6" lengthAdjust="spacingAndGlyphs">m</tspan></text>
<text x="20.2" y="23.2" font-size="12" font-weight="bold" fill="#33444e" stroke="#33444e" stroke-width="0.25" textLength="48.8" lengthAdjust="spacingAndGlyphs">BAYN.DE</text>
<text x="72.9" y="22.2" font-size="9" font-weight="bold" fill="#858585" stroke="#858585" stroke-width="0.2" textLength="18.7" lengthAdjust="spacingAndGlyphs">Aktie</text>
<path d="M100.3 15 L107.8 15 L104.05 19.3 Z" fill="#8a8a8a"/>
<rect x="144.5" y="10.5" width="43" height="15" rx="2" ry="2" fill="#fff" stroke="#e3e5e7" stroke-width="1"/>
<text x="149.6" y="23.2" font-size="10.5" fill="#4f5f6a" stroke="#4f5f6a" stroke-width="0.15" textLength="11.4" lengthAdjust="spacingAndGlyphs">D1</text>
<path d="M175.8 16 L183.9 16 L179.85 20.4 Z" fill="#8a8a8a"/>
<rect x="829" y="214" width="68.2" height="69" rx="1.5" ry="1.5" fill="#f4303f"/>
<path d="M836.2 241.8 L857.2 237.1 L863.9 240.6 L872.4 233.7 L889.9 230.6 L874.7 247.4 L893 265.8 L875.6 263.1 L864.6 254.6 L854.6 259.7 L833.5 255.6 L852.5 247.4 Z" fill="#ffffff"/>
<text transform="translate(910.4 258.5) scale(1.035 1)" font-weight="bold" font-size="56" letter-spacing="5.6" fill="#000000" stroke="#000000" stroke-width="2.5" stroke-linejoin="miter">xtb</text>
<text x="909.3" y="276.5" font-size="15" fill="#111111" textLength="99.2" lengthAdjust="spacingAndGlyphs">online investing</text>
</svg>
</body></html>
